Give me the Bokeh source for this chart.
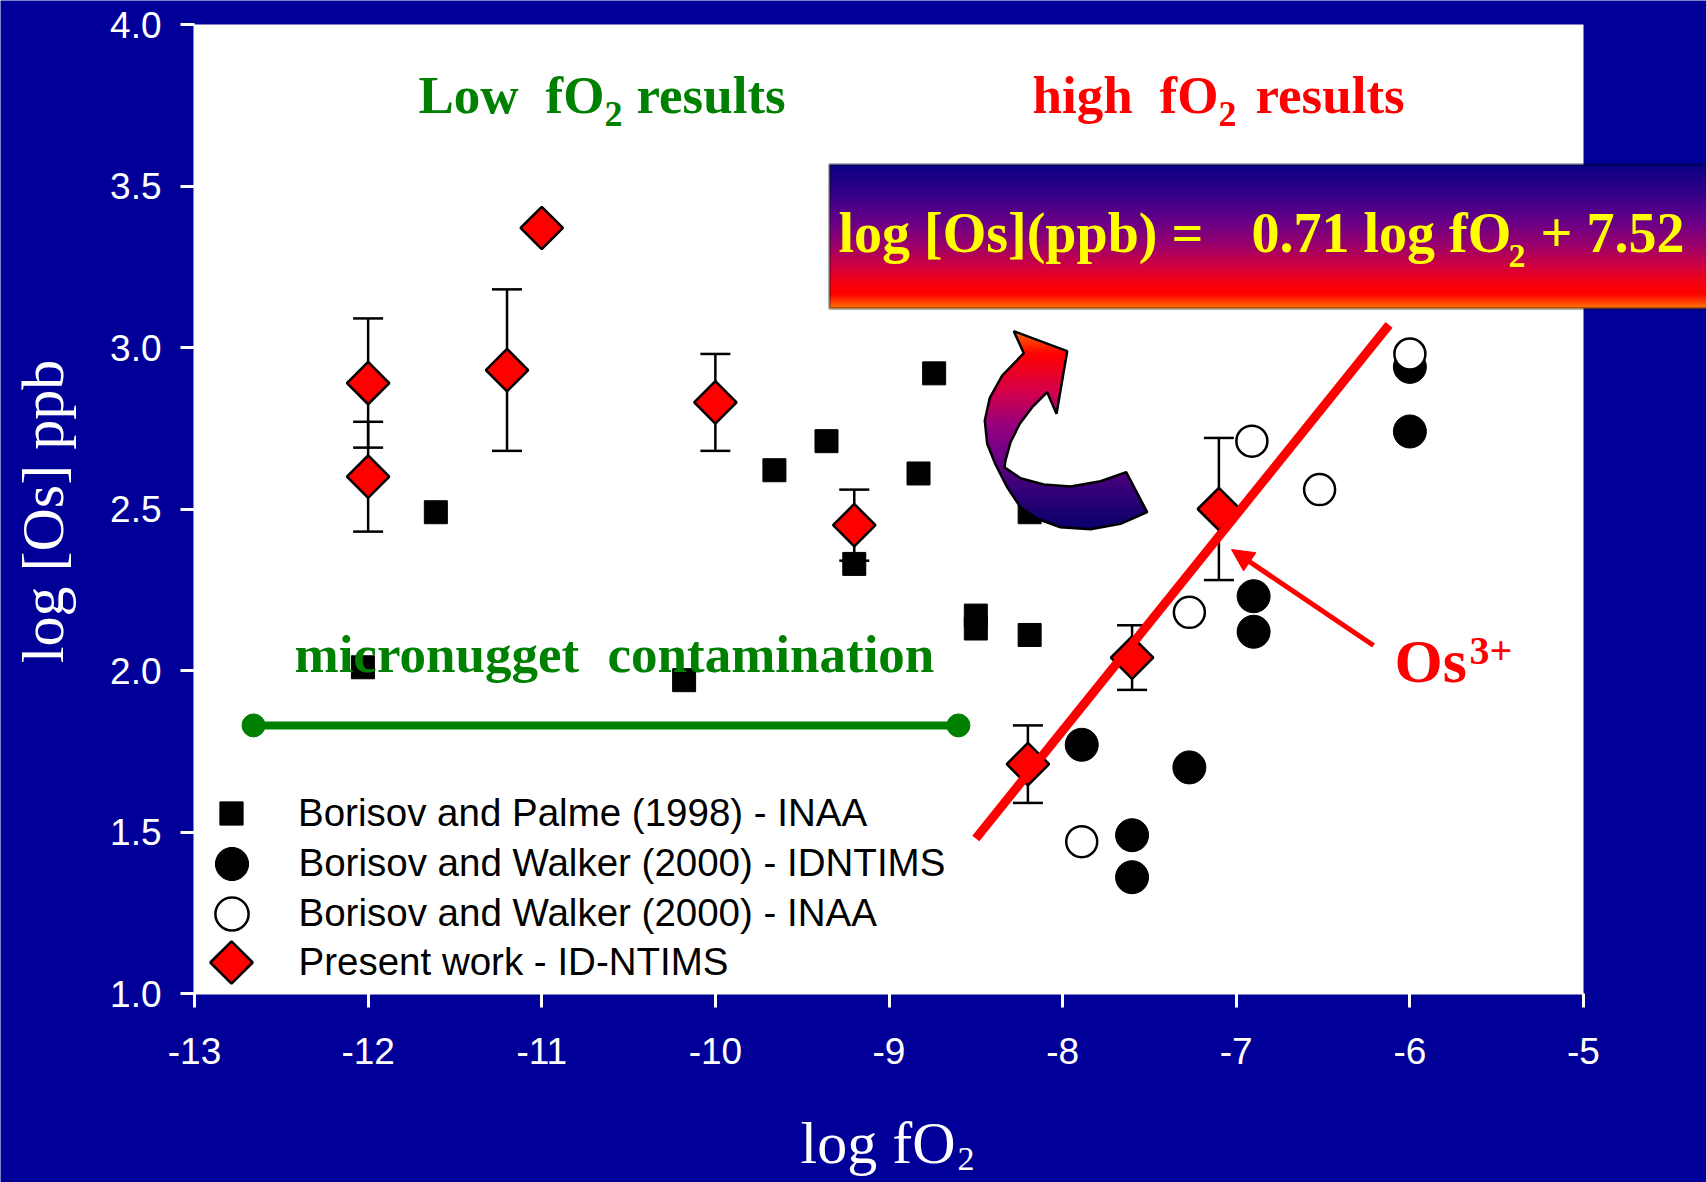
import math
from bokeh.plotting import figure
from bokeh.models import (Range1d, FixedTicker, Label, BoxAnnotation, Arrow, NormalHead,
                          Whisker, TeeHead, ColumnDataSource, Legend, LegendItem)
from bokeh.embed import file_html
from bokeh.resources import INLINE

# ---------------- data ----------------
x_ticks = [-13, -12, -11, -10, -9, -8, -7, -6, -5]
x_tick_labels = ["-13", "-12", "-11", "-10", "-9", "-8", "-7", "-6", "-5"]
y_ticks = [1.0, 1.5, 2.0, 2.5, 3.0, 3.5, 4.0]
y_tick_labels = ["1.0", "1.5", "2.0", "2.5", "3.0", "3.5", "4.0"]

# Borisov and Palme (1998) - INAA
bp_x = [-11.61, -12.03, -10.18, -9.66, -9.36, -9.20, -8.83, -8.74, -8.50, -8.50, -8.19, -8.19]
bp_y = [2.49, 2.01, 1.97, 2.62, 2.71, 2.33, 2.61, 2.92, 2.17, 2.13, 2.11, 2.49]
# Borisov and Walker (2000) - IDNTIMS
bwi_x = [-6.00, -6.00, -6.90, -6.90, -7.27, -7.89, -7.60, -7.60]
bwi_y = [2.94, 2.74, 2.23, 2.12, 1.70, 1.77, 1.49, 1.36]
# Borisov and Walker (2000) - INAA
bwn_x = [-6.00, -6.91, -6.52, -7.27, -7.89]
bwn_y = [2.98, 2.71, 2.56, 2.18, 1.47]
# Present work - ID-NTIMS
pw_x = [-12.0, -12.0, -11.2, -11.0, -10.0, -9.2, -8.2, -7.6, -7.1]
pw_y = [2.89, 2.60, 2.93, 3.37, 2.83, 2.45, 1.71, 2.04, 2.50]
pw_err = [0.20, 0.17, 0.25, 0.0, 0.15, 0.11, 0.12, 0.10, 0.22]

# regression line (as drawn) and micronugget range
fit_x = [-8.50, -6.12]
fit_y = [1.48, 3.07]
micro_x = [-12.66, -8.60]
micro_y = [1.83, 1.83]

legend_labels = ["Borisov and Palme (1998) - INAA",
                 "Borisov and Walker (2000) - IDNTIMS",
                 "Borisov and Walker (2000) - INAA",
                 "Present work - ID-NTIMS"]

# ---------------- style / layout ----------------
BG = "#000099"
GREEN = "#008000"
RED = "#ff0000"
YELLOW = "#ffff00"
XMIN, XMAX, YMIN, YMAX = -13, -5, 1, 4
W_PAGE, H_PAGE = 1706, 1182
# plot area (white box) position in page pixels
FL, FR, FT, FB = 194.0, 1583.0, 24.0, 993.0


def dx(px):
    return XMIN + (px - FL) / (FR - FL) * (XMAX - XMIN)


def dy(py):
    return YMIN + (FB - py) / (FB - FT) * (YMAX - YMIN)


p = figure(frame_width=W_PAGE, frame_height=H_PAGE,
           min_border_left=0, min_border_right=0, min_border_top=0, min_border_bottom=0,
           x_range=Range1d(dx(0), dx(W_PAGE)), y_range=Range1d(dy(H_PAGE), dy(0)),
           output_backend="svg", toolbar_location=None,
           background_fill_color=BG, border_fill_color=BG, outline_line_color=None)
p.grid.visible = False

# white plotting area
p.add_layout(BoxAnnotation(left=XMIN, right=XMAX, bottom=YMIN, top=YMAX,
                           fill_color="white", fill_alpha=1, line_alpha=0, level="underlay"))

for ax in (p.xaxis[0], p.yaxis[0]):
    ax.axis_line_color = "white"
    ax.axis_line_width = 2
    ax.major_tick_line_color = "white"
    ax.major_tick_line_width = 3
    ax.major_tick_out = 14
    ax.major_tick_in = 0
    ax.minor_tick_line_color = None
    ax.major_label_text_color = "white"
    ax.major_label_text_font = "Liberation Sans"
    ax.major_label_text_font_size = "37px"

p.xaxis.fixed_location = YMIN
p.xaxis.bounds = (XMIN, XMAX)
p.xaxis.ticker = FixedTicker(ticks=x_ticks)
p.xaxis.major_label_overrides = {t: l for t, l in zip(x_ticks, x_tick_labels)}
p.xaxis.major_label_standoff = 30
p.yaxis.fixed_location = XMIN
p.yaxis.bounds = (YMIN, YMAX)
p.yaxis.ticker = FixedTicker(ticks=y_ticks)
p.yaxis.major_label_overrides = {t: l for t, l in zip(y_ticks, y_tick_labels)}
p.yaxis.major_label_standoff = 19

# ---------------- data marks ----------------
r_bp = p.scatter(bp_x, bp_y, marker="square", size=23, fill_color="black", line_color="black")
r_bwi = p.scatter(bwi_x, bwi_y, marker="circle", size=33, fill_color="black", line_color="black")
r_bwn = p.scatter(bwn_x, bwn_y, marker="circle", size=31, fill_color="white",
                  line_color="black", line_width=2.5)

eb = [(x, y, e) for x, y, e in zip(pw_x, pw_y, pw_err) if e > 0]
err_src = ColumnDataSource(dict(base=[b[0] for b in eb],
                                lower=[b[1] - b[2] for b in eb],
                                upper=[b[1] + b[2] for b in eb]))
p.add_layout(Whisker(source=err_src, base="base", lower="lower", upper="upper",
                     dimension="height", line_color="black", line_width=2.5,
                     upper_head=TeeHead(size=30, line_color="black", line_width=2.5),
                     lower_head=TeeHead(size=30, line_color="black", line_width=2.5)))

r_pw = p.scatter(pw_x, pw_y, marker="square", angle=math.pi / 4, size=30,
                 fill_color=RED, line_color="black", line_width=2.5)

p.line(fit_x, fit_y, line_color=RED, line_width=9)
p.line(micro_x, micro_y, line_color=GREEN, line_width=8)
p.scatter(micro_x, micro_y, marker="circle", size=23, fill_color=GREEN, line_color=GREEN)


# ---------------- gradient helpers ----------------
def grad(t, stops):
    t = min(max(t, 0.0), 1.0)
    for (t0, c0), (t1, c1) in zip(stops[:-1], stops[1:]):
        if t0 <= t <= t1:
            f = 0 if t1 == t0 else (t - t0) / (t1 - t0)
            c = [round(a + (b - a) * f) for a, b in zip(c0, c1)]
            return "#%02x%02x%02x" % tuple(c)
    return "#%02x%02x%02x" % stops[-1][1]


def clip_half(poly, yc, keep_ge):
    out = []
    n = len(poly)
    for i in range(n):
        cur, prev = poly[i], poly[i - 1]
        cin = cur[1] >= yc if keep_ge else cur[1] <= yc
        pin = prev[1] >= yc if keep_ge else prev[1] <= yc
        if cin != pin:
            t = (yc - prev[1]) / (cur[1] - prev[1])
            out.append((prev[0] + t * (cur[0] - prev[0]), yc))
        if cin:
            out.append(cur)
    return out


# curved block arrow (decoration), outline in page pixels
arrow_px = [(1066.7, 350.7), (1056.0, 413.3), (1046.7, 391.7), (1031.7, 406.7), (1019.3, 423.3),
            (1010.0, 441.7), (1005.0, 460.0), (1004.0, 466.7), (1020.0, 477.7), (1043.3, 484.0),
            (1070.0, 486.0), (1100.0, 480.7), (1125.7, 471.7), (1146.7, 511.7), (1120.0, 523.3),
            (1090.0, 528.7), (1060.0, 526.7), (1036.7, 518.3), (1020.0, 506.7), (1006.7, 486.7),
            (995.0, 464.0), (986.7, 443.3), (984.3, 420.0), (989.3, 397.3), (1001.7, 375.0),
            (1023.3, 352.7), (1013.3, 330.7)]
arrow_stops = [(0.0, (255, 110, 0)), (0.12, (255, 0, 0)), (0.3, (215, 0, 70)), (0.48, (150, 0, 125)),
               (0.62, (115, 0, 135)), (0.8, (55, 0, 120)), (1.0, (10, 0, 105))]
ay0 = min(v[1] for v in arrow_px)
ay1 = max(v[1] for v in arrow_px)
bxs, bys, bcs = [], [], []
yy = ay0
step = 2.0
while yy < ay1:
    piece = clip_half(clip_half(arrow_px, yy - 1.2, True), yy + step + 1.2, False)
    if len(piece) >= 3:
        bxs.append([dx(v[0]) for v in piece])
        bys.append([dy(v[1]) for v in piece])
        bcs.append(grad((yy + step / 2 - ay0) / (ay1 - ay0), arrow_stops))
    yy += step
p.patches(bxs, bys, fill_color=bcs, line_alpha=0)
p.patch([dx(v[0]) for v in arrow_px], [dy(v[1]) for v in arrow_px],
        fill_alpha=0, line_color="black", line_width=2.5)

# equation box with vertical gradient
box_stops = [(0.0, (10, 0, 130)), (0.2, (50, 0, 135)), (0.4, (105, 0, 135)), (0.55, (150, 0, 110)),
             (0.7, (205, 0, 65)), (0.84, (250, 0, 10)), (0.9, (255, 0, 0)), (1.0, (255, 120, 0))]
BX0, BX1, BY0, BY1 = 829.0, 1730.0, 164.0, 308.0
yy = BY0
step = 2.0
while yy < BY1:
    c = grad((yy + step / 2 - BY0) / (BY1 - BY0), box_stops)
    p.add_layout(BoxAnnotation(left=dx(BX0), right=dx(BX1), top=dy(yy), bottom=dy(min(yy + step + 0.6, BY1)),
                               fill_color=c, fill_alpha=1, line_alpha=0))
    yy += step
p.add_layout(BoxAnnotation(left=dx(BX0), right=dx(BX1), top=dy(BY0), bottom=dy(BY1),
                           fill_alpha=0, line_color="black", line_width=3))

# ---------------- texts ----------------
BASE_FIX = 0.36  # measured offset of alphabetic baseline in the rendered page (em)


def lab(text, px, py, size, color, style="bold", font="Liberation Serif", angle=0.0,
        align="left", baseline="alphabetic"):
    if baseline == "alphabetic":
        py = py - BASE_FIX * size
    p.add_layout(Label(x=dx(px), y=dy(py), text=text, text_font=font,
                       text_font_size=f"{size}px", text_font_style=style, text_color=color,
                       text_align=align, text_baseline=baseline, angle=angle))


lab("Low", 418, 114, 53, GREEN)
lab("fO", 545, 114, 53, GREEN)
lab("2", 604, 126, 36, GREEN)
lab("results", 636, 114, 53, GREEN)
lab("high", 1032, 114, 53, RED)
lab("fO", 1159, 114, 53, RED)
lab("2", 1218, 126, 36, RED)
lab("results", 1255, 114, 53, RED)
lab("micronugget", 294, 673, 53, GREEN)
lab("contamination", 607, 673, 53, GREEN)
lab("log [Os](ppb) =", 838, 253, 56, YELLOW)
lab("0.71 log fO", 1251, 253, 56, YELLOW)
lab("2", 1508, 268, 34, YELLOW)
lab("+ 7.52", 1540, 253, 56, YELLOW)
lab("Os", 1394, 683, 62, RED)
lab("3+", 1469, 665, 40, RED)
lab("log fO", 800, 1164, 60, "white", style="normal")
lab("2", 957, 1171, 34, "white", style="normal")
lab("log [Os] ppb", 42, 511, 60, "white", style="normal", angle=math.pi / 2,
    align="center", baseline="middle")

p.add_layout(Arrow(x_start=dx(1373), y_start=dy(645), x_end=dx(1231), y_end=dy(549),
                   line_color=RED, line_width=5,
                   end=NormalHead(size=22, fill_color=RED, line_color=RED, line_width=1)))

# ---------------- legend (one Legend per entry to control swatch size) ----------------
# the diamond key is drawn separately (legend keys ignore marker rotation)
r_pw_key = p.scatter([], [], marker="square", fill_alpha=0, line_alpha=0)
LEG_X, LEG_TXT = 231, 298
leg_rows = [813, 863, 913, 962]
leg_specs = [(r_bp, 58), (r_bwi, 83), (r_bwn, 83), (r_pw_key, 75)]
for lbl, (rend, W), cy in zip(legend_labels, leg_specs, leg_rows):
    leg = Legend(items=[LegendItem(label=lbl, renderers=[rend])],
                 location=(LEG_X - W / 2, (H_PAGE - cy) - W / 2),
                 glyph_width=W, glyph_height=W, label_standoff=int(round(LEG_TXT - LEG_X - W / 2)),
                 padding=0, margin=0, spacing=0,
                 border_line_alpha=0, background_fill_alpha=0,
                 label_text_font="Liberation Sans", label_text_font_size="38.5px",
                 label_text_color="black")
    p.add_layout(leg)
p.scatter([dx(LEG_X)], [dy(leg_rows[3])], marker="square", angle=math.pi / 4, size=30,
          fill_color=RED, line_color="black", line_width=2.5)

html = file_html(p, INLINE)
html = html.replace("<body>", '<body style="background-color:#000099;">', 1)
open("out.html", "w").write(html)
